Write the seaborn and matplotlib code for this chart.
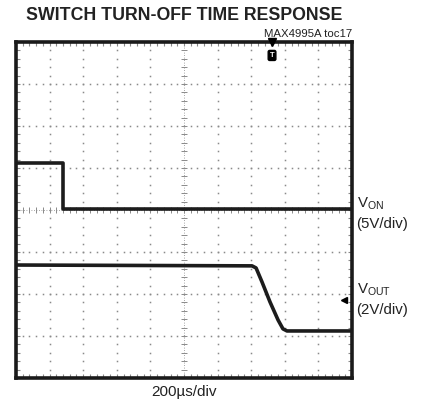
import numpy as np
import pandas as pd
import matplotlib
matplotlib.use("Agg")
import matplotlib.pyplot as plt
import seaborn as sns

# ---- data (time in µs, amplitude in divisions) ----
von_t = [0, 280, 280, 2000]
von_v = [1.12, 1.12, 0.02, 0.02]

vout_t = [0, 1405, 1429, 1464, 1512, 1560, 1589, 1613, 2000]
vout_v = [-1.31, -1.33, -1.38, -1.71, -2.19, -2.62, -2.83, -2.88, -2.88]

title = "SWITCH TURN-OFF TIME RESPONSE"
part_label = "MAX4995A toc17"
x_label = "200µs/div"
trace_labels = [("V$_{\\mathregular{ON}}$", "(5V/div)"), ("V$_{\\mathregular{OUT}}$", "(2V/div)")]

sns.set_style("white")
plt.rcParams['font.family'] = ['Liberation Sans', 'DejaVu Sans']
plt.rcParams['mathtext.fontset'] = 'custom'
plt.rcParams['mathtext.rm'] = 'Liberation Sans'

W, H = 424, 408
fig = plt.figure(figsize=(W / 100, H / 100), dpi=100)
ax = fig.add_axes([16 / W, 30 / H, 336 / W, 336 / H])
ax.set_xlim(0, 2000)
ax.set_ylim(-4, 4)

grid_c = '#8a8a8a'
# graticule dots
for k in range(1, 10):
    if k == 5:
        continue
    yy = np.arange(-4, 4.001, 0.2)
    ax.plot(np.full_like(yy, k * 200), yy, ls='none', marker='s', ms=1.1, mew=0, color=grid_c)
for j in range(-3, 4):
    if j == 0:
        continue
    xx = np.arange(0, 2000.1, 40)
    ax.plot(xx, np.full_like(xx, j), ls='none', marker='s', ms=1.1, mew=0, color=grid_c)
# center crosshair
yy = np.arange(-4, 4.001, 0.2)
ax.plot(np.full_like(yy, 1000), yy, ls=(0, (1, 2)), lw=0.6, color=grid_c)
ax.plot(np.full_like(yy, 1000), yy, ls='none', marker='_', ms=4, mew=0.7, color=grid_c)
xx = np.arange(0, 2000.1, 40)
ax.plot(xx, np.zeros_like(xx), ls=(0, (1, 2)), lw=0.6, color=grid_c)
ax.plot(xx, np.zeros_like(xx), ls='none', marker='|', ms=4, mew=0.7, color=grid_c)

# traces
df_on = pd.DataFrame({'t': von_t, 'v': von_v})
df_out = pd.DataFrame({'t': vout_t, 'v': vout_v})
sns.lineplot(data=df_on, x='t', y='v', ax=ax, color='#1c1c1c', lw=2.6, sort=False, estimator=None)
sns.lineplot(data=df_out, x='t', y='v', ax=ax, color='#1c1c1c', lw=2.6, sort=False, estimator=None)

# trigger marker and ground arrow
ax.plot([1524], [4], marker='v', ms=6, color='black', clip_on=False, zorder=5)
ax.text(1524, 3.68, 'T', color='white', fontsize=5.5, fontweight='bold', ha='center', va='center',
        bbox=dict(boxstyle='round,pad=0.2', fc='black', ec='black'))
ax.plot([1955], [-2.14], marker='<', ms=4, color='black', zorder=5)

# ticks / frame
ax.set_xticks(np.arange(0, 2001, 200))
ax.set_xticks(np.arange(0, 2001, 40), minor=True)
ax.set_yticks(np.arange(-4, 4.1, 1))
ax.set_yticks(np.arange(-4, 4.01, 0.2), minor=True)
ax.tick_params(which='both', direction='in', length=3, width=0.8, color=grid_c,
               top=True, right=True, bottom=True, left=True,
               labelbottom=False, labelleft=False)
ax.set_xlabel('')
ax.set_ylabel('')
for s in ax.spines.values():
    s.set_linewidth(2.6)
    s.set_color('#1a1a1a')

def fx(px):
    return px / W

def fy(py):
    return 1 - py / H

fig.text(fx(184), fy(15), title, fontsize=12.8, fontweight='bold', ha='center', va='center', color='#222')
fig.text(fx(352), fy(34), part_label, fontsize=8.2, ha='right', va='center', color='#222')
fig.text(fx(184), fy(392), x_label, fontsize=11, ha='center', va='center', color='#222')
fig.text(fx(357), fy(204), trace_labels[0][0], fontsize=10.8, ha='left', va='center', color='#222')
fig.text(fx(356), fy(224), trace_labels[0][1], fontsize=10.8, ha='left', va='center', color='#222')
fig.text(fx(357), fy(290), trace_labels[1][0], fontsize=10.8, ha='left', va='center', color='#222')
fig.text(fx(356), fy(310), trace_labels[1][1], fontsize=10.8, ha='left', va='center', color='#222')

fig.savefig('out.png', dpi=100)
